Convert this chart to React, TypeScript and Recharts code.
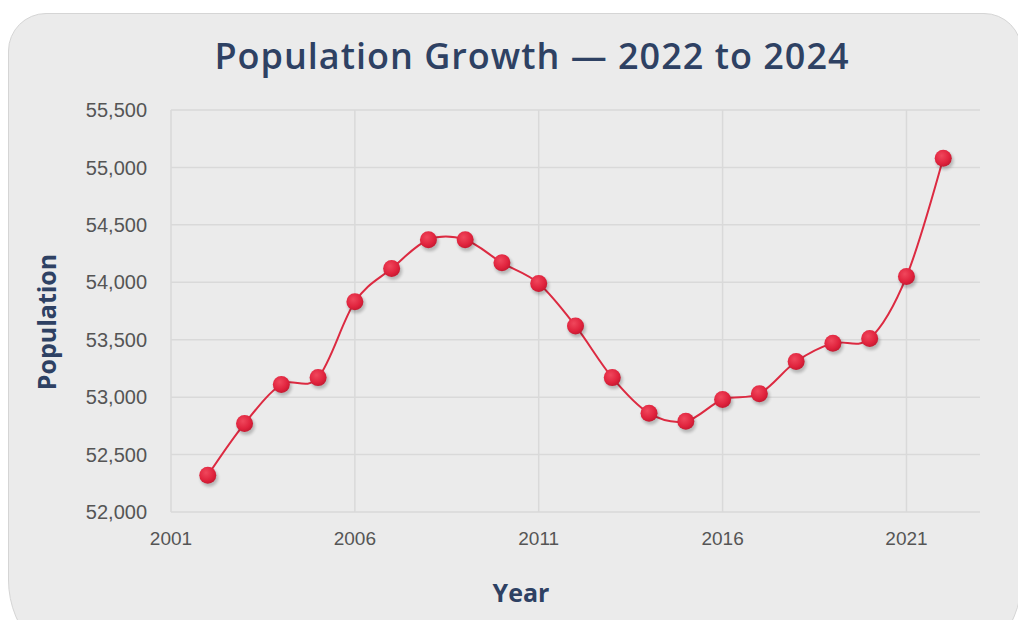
import { CartesianGrid, Line, LineChart, ReferenceLine, XAxis, YAxis } from "recharts";

const years = [2002, 2003, 2004, 2005, 2006, 2007, 2008, 2009, 2010, 2011, 2012, 2013, 2014, 2015, 2016, 2017, 2018, 2019, 2020, 2021, 2022];
const population = [52320, 52770, 53110, 53170, 53830, 54120, 54370, 54370, 54170, 53990, 53620, 53170, 52860, 52790, 52980, 53030, 53310, 53470, 53510, 54050, 55080];
const yearTicks = [2001, 2006, 2011, 2016, 2021];
const populationTicks = [52000, 52500, 53000, 53500, 54000, 54500, 55000, 55500];

const rows = years.map((year, i) => ({ year, population: population[i] }));

// catmull-rom style cardinal curve (tension 0), same maths as d3's curveCardinal
function cardinalCurve(context: any) {
  const k = 1 / 6;
  let line = NaN;
  let n = 0;
  let x0 = NaN, x1 = NaN, x2 = NaN, y0 = NaN, y1 = NaN, y2 = NaN;
  const seg = (x: number, y: number) => {
    context.bezierCurveTo(x1 + k * (x2 - x0), y1 + k * (y2 - y0), x2 + k * (x1 - x), y2 + k * (y1 - y), x2, y2);
  };
  return {
    areaStart() { line = 0; },
    areaEnd() { line = NaN; },
    lineStart() { x0 = x1 = x2 = y0 = y1 = y2 = NaN; n = 0; },
    lineEnd() {
      if (n === 2) context.lineTo(x2, y2);
      else if (n === 3) seg(x1, y1);
      if (line || (line !== 0 && n === 1)) context.closePath();
      line = 1 - line;
    },
    point(x: number, y: number) {
      x = +x; y = +y;
      if (n === 0) { n = 1; line ? context.lineTo(x, y) : context.moveTo(x, y); }
      else if (n === 1) { n = 2; x1 = x; y1 = y; }
      else { n = 3; seg(x, y); }
      x0 = x1; x1 = x2; x2 = x;
      y0 = y1; y1 = y2; y2 = y;
    },
  };
}

function RedDot(props: any) {
  const { cx, cy } = props;
  if (cx == null || cy == null) return null;
  return (
    <g>
      <circle cx={cx + 1.5} cy={cy + 2.5} r={9} fill="#000" opacity={0.22} filter="url(#dotBlur)" />
      <circle cx={cx} cy={cy} r={8.5} fill="url(#dotFill)" />
    </g>
  );
}

export default function App() {
  const navy = "#2e4163";
  const heading = "'Open Sans', 'Noto Sans', sans-serif";
  const gridColor = "#d9d9d9";
  return (
    <div style={{ position: "relative", width: 1018, height: 620, overflow: "hidden", background: "#fff" }}>
      <style>{"body{margin:0;overflow:hidden}"}</style>
      <div style={{ position: "absolute", left: 8, top: 13, width: 1014, height: 662, borderRadius: "38px 38px 95px 95px", background: "#ebebeb", border: "1px solid #d5d5d5", boxSizing: "border-box" }} />
      <div style={{ position: "absolute", left: 0, top: 55, width: 1064, textAlign: "center", transform: "translateY(-50%)", fontFamily: heading, fontSize: 36, fontWeight: 600, letterSpacing: 1, color: navy }}>
        Population Growth — 2022 to 2024
      </div>
      <div style={{ position: "absolute", left: 46, top: 322, transform: "translate(-50%, -50%) rotate(-90deg)", fontFamily: heading, fontSize: 25, fontWeight: 700, color: navy, whiteSpace: "nowrap" }}>
        Population
      </div>
      <div style={{ position: "absolute", left: 521, top: 592, transform: "translate(-50%, -50%)", fontFamily: heading, fontSize: 25, fontWeight: 700, color: navy }}>
        Year
      </div>
      <div style={{ position: "absolute", left: 0, top: 0 }}>
        <LineChart width={1018} height={620} data={rows} margin={{ top: 110, right: 38, bottom: 78, left: 30 }}>
          <defs>
            <radialGradient id="dotFill" cx="40%" cy="35%" r="65%">
              <stop offset="0%" stopColor="#f0475c" />
              <stop offset="70%" stopColor="#e0233d" />
              <stop offset="100%" stopColor="#c81a32" />
            </radialGradient>
            <filter id="dotBlur" x="-50%" y="-50%" width="200%" height="200%">
              <feGaussianBlur stdDeviation="1.6" />
            </filter>
          </defs>
          <CartesianGrid stroke={gridColor} strokeWidth={1.5} vertical={false} />
          {yearTicks.map((t) => (
            <ReferenceLine key={t} x={t} stroke={gridColor} strokeWidth={1.5} />
          ))}
          <XAxis
            dataKey="year"
            type="number"
            domain={[2001, 2023]}
            ticks={yearTicks}
            height={30}
            axisLine={false}
            tickLine={false}
            tickSize={0}
            tickMargin={20}
            tick={{ fill: "#555", fontSize: 19, fontFamily: "'Liberation Sans', Arial, sans-serif" }}
          />
          <YAxis
            type="number"
            domain={[52000, 55500]}
            ticks={populationTicks}
            width={141}
            axisLine={false}
            tickLine={false}
            tickSize={0}
            tickMargin={24}
            tickFormatter={(v: number) => v.toLocaleString("en-US")}
            tick={{ fill: "#555", fontSize: 20, fontFamily: "'Liberation Sans', Arial, sans-serif" }}
          />
          <Line
            dataKey="population"
            type={cardinalCurve as any}
            stroke="#dc2a41"
            strokeWidth={2}
            dot={<RedDot />}
            activeDot={false}
            isAnimationActive={false}
          />
        </LineChart>
      </div>
    </div>
  );
}
